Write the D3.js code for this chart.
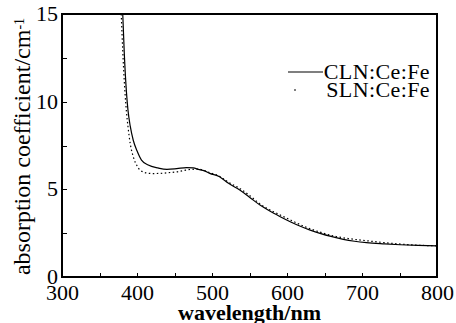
<!DOCTYPE html>
<meta charset="utf-8">
<style>
body { margin: 0; background: #fff; }
svg text { font-family: "Liberation Serif", "Times New Roman", "DejaVu Serif", serif; fill: #000; }
.axis path, .axis line { fill: none; stroke: #000; shape-rendering: crispEdges; }
.line { fill: none; stroke: #000; stroke-width: 1.2px; }
</style>
<body>
<div id="chart"></div>
<script src="https://d3js.org/d3.v7.min.js"></script>
<script>

// absorption spectra (wavelength in nm, coefficient in cm^-1)
var cln_nm  = [381, 383, 386, 388, 391, 395, 400, 406, 415, 428, 440, 453, 466, 475, 482, 490, 497, 510, 522, 537, 550, 564, 577, 591, 605, 617, 630, 644, 660, 675, 690, 706, 730, 751, 775, 800];
var cln_abs = [15, 12.8, 10.5, 9.5, 8.6, 7.8, 7.2, 6.67, 6.39, 6.22, 6.14, 6.18, 6.24, 6.22, 6.14, 6.05, 5.91, 5.72, 5.34, 4.96, 4.55, 4.1, 3.76, 3.44, 3.14, 2.91, 2.69, 2.49, 2.3, 2.15, 2.04, 1.96, 1.89, 1.84, 1.8, 1.77];

var sln_nm  = [379, 381, 384, 386, 388, 391, 395, 400, 404, 413, 422, 431, 442, 453, 463, 473, 482, 497, 510, 522, 537, 551, 563, 573, 587, 600, 613, 626, 644, 662, 684, 706, 730, 751, 775, 800];
var sln_abs = [15, 12.9, 10.5, 9.4, 8.57, 7.6, 6.86, 6.35, 6.1, 5.93, 5.9, 5.91, 5.95, 6.0, 6.08, 6.14, 6.15, 5.95, 5.75, 5.4, 5.05, 4.62, 4.2, 3.92, 3.62, 3.35, 3.08, 2.83, 2.56, 2.34, 2.18, 2.07, 1.96, 1.88, 1.81, 1.78];

var x_ticks = [300, 400, 500, 600, 700, 800];
var y_ticks = [0, 5, 10, 15];
var series_names = ["CLN:Ce:Fe", "SLN:Ce:Fe"];

var chartWidth  = 456,
    chartHeight = 323;

var margin = {top: 14, right: 19, bottom: 46, left: 62},
    width  = chartWidth - margin.left - margin.right,
    height = chartHeight - margin.top - margin.bottom;

var svg = d3.select("#chart").append("svg")
    .attr("width",  chartWidth)
    .attr("height", chartHeight)
  .append("g")
    .attr("transform", "translate(" + margin.left + "," + margin.top + ")");

var x = d3.scaleLinear()
    .range([0, width])
    .domain([300, 800]);

var y = d3.scaleLinear()
    .range([height, 0])
    .domain([0, 15]);

// frame
svg.append("rect")
    .attr("width", width)
    .attr("height", height)
    .attr("fill", "none")
    .attr("stroke", "#000")
    .attr("stroke-width", 1.3)
    .attr("shape-rendering", "crispEdges");

// ticks point inward
var xg = svg.append("g")
    .attr("class", "axis")
    .attr("transform", "translate(0," + height + ")")
    .call(d3.axisBottom(x).tickValues(d3.range(300, 801, 50)).tickSize(-4).tickFormat(""));
xg.select(".domain").remove();

var yg = svg.append("g")
    .attr("class", "axis")
    .call(d3.axisLeft(y).tickValues(d3.range(0, 15.1, 2.5)).tickSize(-5).tickFormat(""));
yg.select(".domain").remove();

// tick labels
var xl = svg.append("g")
    .attr("transform", "translate(0," + height + ")")
    .call(d3.axisBottom(x).tickValues(x_ticks).tickSize(0).tickPadding(7).tickFormat(d3.format("d")));
xl.select(".domain").remove();
xl.attr("font-family", null);
xl.selectAll("text").style("font-size", "22px").attr("dy", "0.71em");

var yl = svg.append("g")
    .call(d3.axisLeft(y).tickValues(y_ticks).tickSize(0).tickPadding(4).tickFormat(d3.format("d")));
yl.select(".domain").remove();
yl.attr("font-family", null);
yl.selectAll("text").style("font-size", "22px").attr("dy", "0.3em");

// axis titles
svg.append("text")
    .attr("x", width / 2)
    .attr("y", height + 43)
    .attr("text-anchor", "middle")
    .style("font-size", "22px")
    .style("font-weight", "bold")
    .text("wavelength/nm");

var yt = svg.append("text")
    .attr("transform", "translate(" + (-32) + "," + (height / 2 + 1) + ") rotate(-90)")
    .attr("text-anchor", "middle")
    .style("font-size", "24px");
yt.append("tspan").text("absorption coefficient/cm");
yt.append("tspan").attr("dy", "-0.45em").style("font-size", "14px").text("-1");

// curves
var line = d3.line()
    .x(function(d) { return x(d[0]); })
    .y(function(d) { return y(d[1]); })
    .curve(d3.curveMonotoneX);

svg.append("path")
    .datum(d3.zip(cln_nm, cln_abs))
    .attr("class", "line")
    .attr("d", line);

svg.append("path")
    .datum(d3.zip(sln_nm, sln_abs))
    .attr("class", "line")
    .attr("stroke-dasharray", "1.5,2.5")
    .attr("d", line);

// legend
var lg = svg.append("g")
    .attr("transform", "translate(" + (width - 3) + ",0)");

lg.append("line")
    .attr("x1", -146).attr("x2", -111)
    .attr("y1", 58).attr("y2", 58)
    .attr("stroke", "#000")
    .attr("stroke-width", 1.2);

lg.append("line")
    .attr("x1", -140).attr("x2", -138)
    .attr("y1", 76).attr("y2", 76)
    .attr("stroke", "#000")
    .attr("stroke-width", 1.2);

lg.selectAll(".legend-text")
    .data(series_names)
    .enter().append("text")
    .attr("class", "legend-text")
    .attr("x", -4)
    .attr("y", function(d, i) { return 65 + i * 17.5; })
    .attr("text-anchor", "end")
    .style("font-size", "22px")
    .style("letter-spacing", "0.4px")
    .text(function(d) { return d; });

</script>
